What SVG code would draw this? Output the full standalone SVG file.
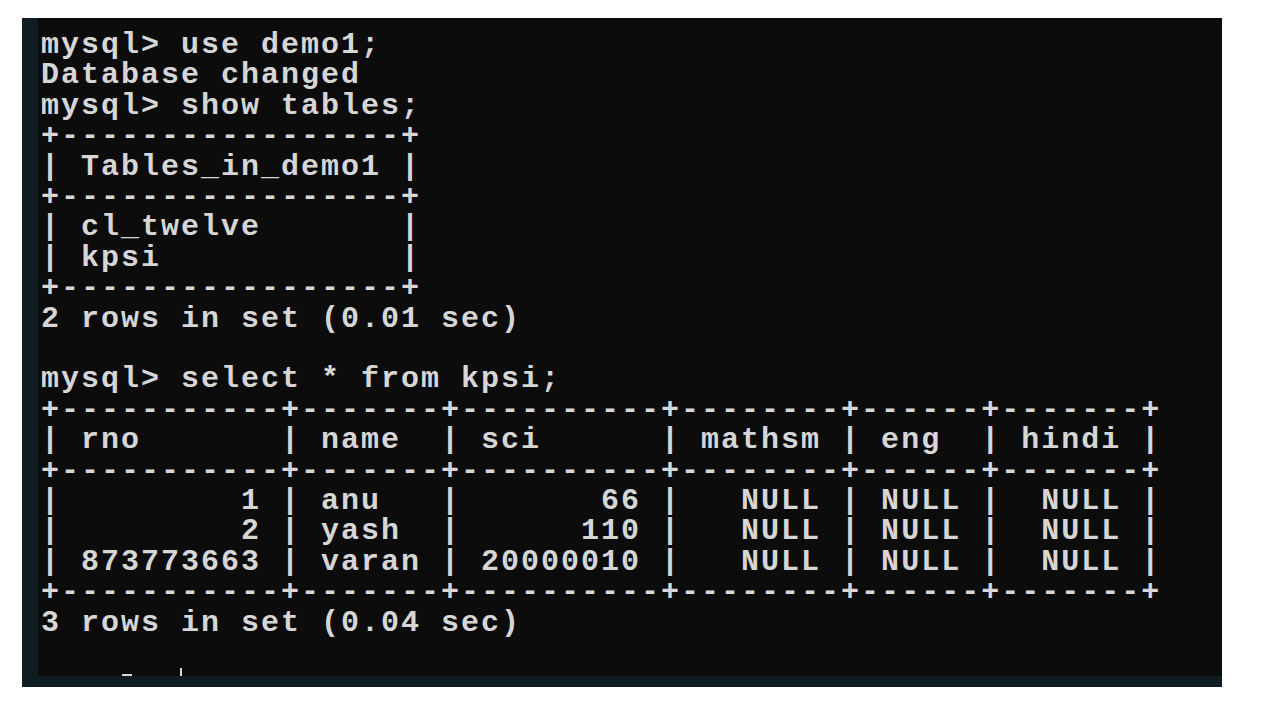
<svg xmlns="http://www.w3.org/2000/svg" width="1280" height="720" viewBox="0 0 1280 720">
<style>
text{font-family:"Liberation Mono","DejaVu Sans Mono",monospace;font-size:30px;letter-spacing:2px;font-weight:bold;fill:#d6d6d6;white-space:pre}
</style>
<rect width="1280" height="720" fill="#ffffff"/>
<rect x="22" y="18" width="1200" height="669" fill="#0f1c22"/>
<rect x="38" y="18" width="1184" height="658" fill="#0c0c0c"/>
<g id="terminal" xml:space="preserve">
<text x="41" y="53">mysql&gt; use demo1;</text>
<text x="41" y="83.4">Database changed</text>
<text x="41" y="113.8">mysql&gt; show tables;</text>
<text x="41" y="144.2">+-----------------+</text>
<text x="41" y="174.6">| Tables_in_demo1 |</text>
<text x="41" y="205">+-----------------+</text>
<text x="41" y="235.4">| cl_twelve       |</text>
<text x="41" y="265.8">| kpsi            |</text>
<text x="41" y="296.2">+-----------------+</text>
<text x="41" y="326.6">2 rows in set (0.01 sec)</text>
<text x="41" y="387.4">mysql&gt; select * from kpsi;</text>
<text x="41" y="417.8">+-----------+-------+----------+--------+------+-------+</text>
<text x="41" y="448.2">| rno       | name  | sci      | mathsm | eng  | hindi |</text>
<text x="41" y="478.6">+-----------+-------+----------+--------+------+-------+</text>
<text x="41" y="509">|         1 | anu   |       66 |   NULL | NULL |  NULL |</text>
<text x="41" y="539.4">|         2 | yash  |      110 |   NULL | NULL |  NULL |</text>
<text x="41" y="569.8">| 873773663 | varan | 20000010 |   NULL | NULL |  NULL |</text>
<text x="41" y="600.2">+-----------+-------+----------+--------+------+-------+</text>
<text x="41" y="630.6">3 rows in set (0.04 sec)</text>
</g>
<rect x="122" y="674" width="10" height="2" fill="#d6d6d6"/>
<rect x="180" y="668" width="2" height="8" fill="#d6d6d6"/>
</svg>
